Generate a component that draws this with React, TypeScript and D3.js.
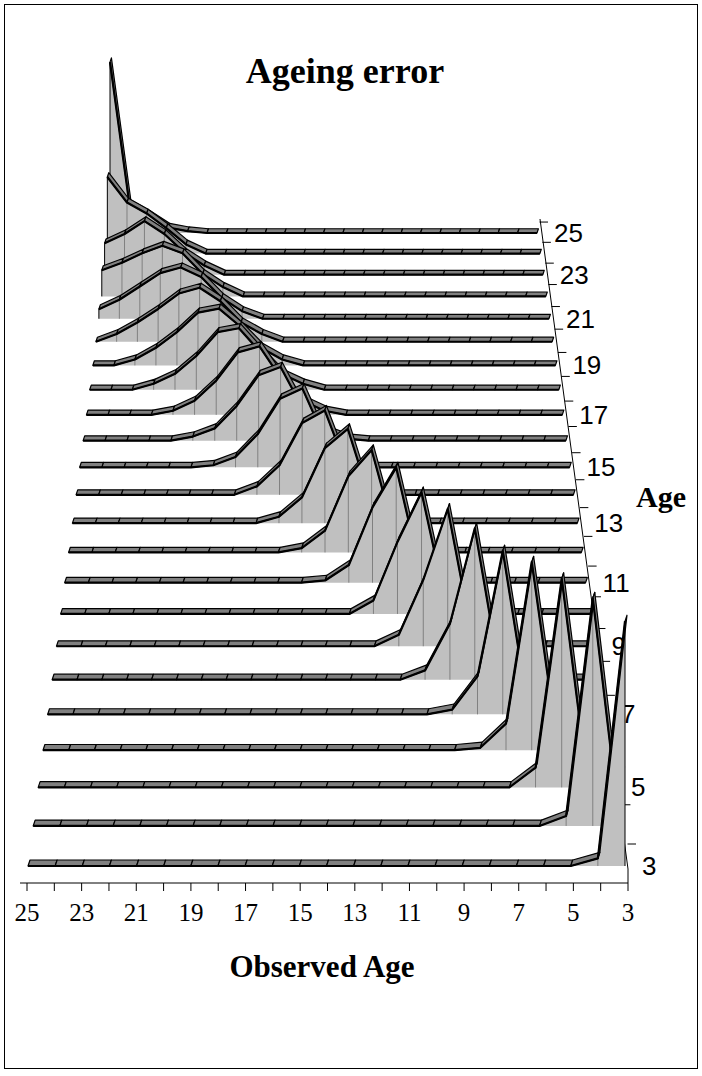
import * as d3 from 'd3'

// observed ages on the horizontal axis (left = 25, right = 3)
const observedAges = d3.range(25, 2, -1)
// true ages, one ribbon each (front = 3, back = 25)
const trueAges = d3.range(3, 26)
const bottomTicks = [25, 23, 21, 19, 17, 15, 13, 11, 9, 7, 5, 3]
const depthTicks = [3, 5, 7, 9, 11, 13, 15, 17, 19, 21, 23, 25]

// each row: [true age, first observed age, values from that observed age upward]
const rows: [number, number, number[]][] = [
  [3, 3, [0.96, 0.03]],
  [4, 3, [0.01, 0.91, 0.04]],
  [5, 4, [0.01, 0.85, 0.08]],
  [6, 5, [0.02, 0.78, 0.11, 0.01]],
  [7, 6, [0.02, 0.69, 0.16, 0.02]],
  [8, 7, [0.03, 0.65, 0.24, 0.04]],
  [9, 8, [0.04, 0.6, 0.29, 0.05]],
  [10, 9, [0.05, 0.54, 0.32, 0.06]],
  [11, 10, [0.06, 0.52, 0.34, 0.08, 0.01]],
  [12, 10, [0.02, 0.08, 0.47, 0.35, 0.1, 0.02]],
  [13, 11, [0.02, 0.1, 0.44, 0.35, 0.12, 0.03]],
  [14, 12, [0.03, 0.12, 0.4, 0.34, 0.14, 0.04]],
  [15, 13, [0.04, 0.14, 0.38, 0.33, 0.16, 0.05, 0.01]],
  [16, 13, [0.01, 0.05, 0.16, 0.36, 0.32, 0.17, 0.06, 0.02]],
  [17, 14, [0.02, 0.07, 0.18, 0.34, 0.31, 0.17, 0.07, 0.02]],
  [18, 15, [0.03, 0.08, 0.19, 0.31, 0.29, 0.17, 0.08, 0.03]],
  [19, 16, [0.03, 0.09, 0.2, 0.29, 0.27, 0.17, 0.09, 0.03]],
  [20, 17, [0.04, 0.1, 0.21, 0.28, 0.25, 0.17, 0.1, 0.04]],
  [21, 18, [0.04, 0.11, 0.22, 0.27, 0.24, 0.17, 0.1, 0.05]],
  [22, 19, [0.05, 0.12, 0.23, 0.27, 0.23, 0.18, 0.14]],
  [23, 20, [0.05, 0.12, 0.22, 0.29, 0.22, 0.17]],
  [24, 21, [0.05, 0.14, 0.22, 0.28, 0.42]],
  [25, 21, [0.01, 0.03, 0.1, 0.16, 0.95]],
]

const W = 702
const H = 1076
const serif = 'Liberation Serif, Times New Roman, serif'
const sans = 'Liberation Sans, Arial, sans-serif'
const maxDepth = trueAges.length - 1
const persp = (d: number) => 1 / (1 + 0.019 * d)
const frac = d3.scaleLinear().domain([1, persp(maxDepth)]).range([0, 1])
const baseY = d3.scaleLinear().domain([0, 1]).range([866, 233])
const leftX = d3.scaleLinear().domain([0, 1]).range([28, 110])
const rightX = d3.scaleLinear().domain([0, 1]).range([625, 537])
const valueH = d3.scaleLinear().domain([0, 1]).range([0, 255])

function rowGeom(age: number) {
  const d = age - 3
  const s = persp(d)
  const f = frac(s)
  const y0 = baseY(f)
  const x = d3.scaleLinear().domain([25, 3]).range([leftX(f), rightX(f)])
  return { s, y0, x }
}

function Ribbon({ age, from, vals }: { age: number; from: number; vals: number[] }) {
  const { s, y0, x } = rowGeom(age)
  const pts = observedAges.map((o) => {
    const i = o - from
    const v = i >= 0 && i < vals.length ? vals[i] : 0
    return { o, v, px: x(o), py: y0 - valueH(v) * s }
  })
  const off: [number, number] = [2 * s, -6 * s]
  const line = d3.line<{ px: number; py: number }>().x((p) => p.px).y((p) => p.py)
  const area = d3
    .area<{ px: number; py: number }>()
    .x((p) => p.px)
    .y0(y0)
    .y1((p) => p.py)
  const last = pts[pts.length - 1]
  return (
    <g>
      <path d={area(pts) || ''} fill="#c0c0c0" stroke="none" />
      {pts.map((p, i) =>
        p.v > 0.015 && i > 0 && i < pts.length - 1 ? (
          <line key={i} x1={p.px} x2={p.px} y1={y0} y2={p.py} stroke="#808080" strokeWidth={1} />
        ) : null
      )}
      <line x1={pts[0].px} x2={pts[0].px} y1={y0} y2={pts[0].py} stroke="#000" strokeWidth={1} />
      <line x1={last.px} x2={last.px} y1={y0} y2={last.py} stroke="#000" strokeWidth={1} />
      {pts.slice(0, -1).map((p, i) => {
        const q = pts[i + 1]
        const poly = [
          [p.px, p.py],
          [q.px, q.py],
          [q.px + off[0], q.py + off[1]],
          [p.px + off[0], p.py + off[1]],
        ]
        return (
          <polygon
            key={'b' + i}
            points={poly.map((c) => c.join(',')).join(' ')}
            fill="#808080"
            stroke="#000"
            strokeWidth={1.2}
            strokeLinejoin="round"
          />
        )
      })}
      <path d={line(pts) || ''} fill="none" stroke="#000" strokeWidth={2.2} strokeLinejoin="round" />
    </g>
  )
}

export default function App() {
  const axisY = 883
  const xAxis = d3.scaleLinear().domain([25, 3]).range([27, 628])
  const front = rowGeom(3)
  const back = rowGeom(25)
  const rightAxisX = (age: number) => rowGeom(age).x(3) + 3
  return (
    <svg
      width={W}
      height={H}
      viewBox={`0 0 ${W} ${H}`}
      style={{ display: 'block', position: 'absolute', left: 0, top: 0 }}
    >
      <rect x={4.5} y={4.5} width={693} height={1064} fill="#fff" stroke="#000" strokeWidth={1} />
      <text x={345} y={83} textAnchor="middle" fontFamily={serif} fontWeight="bold" fontSize={36}>
        Ageing error
      </text>
      {/* floor / bottom axis */}
      <line x1={20} x2={628} y1={axisY} y2={axisY} stroke="#000" />
      {observedAges.map((o) => (
        <line key={o} x1={xAxis(o)} x2={xAxis(o)} y1={axisY} y2={axisY + 8} stroke="#000" />
      ))}
      {bottomTicks.map((o) => (
        <text key={o} x={xAxis(o)} y={axisY + 38} textAnchor="middle" fontFamily={serif} fontSize={25}>
          {o}
        </text>
      ))}
      <text x={322} y={977} textAnchor="middle" fontFamily={serif} fontWeight="bold" fontSize={31}>
        Observed Age
      </text>
      {/* depth axis */}
      <line x1={628} y1={axisY} x2={front.x(3) + 3} y2={front.y0 + 3} stroke="#000" />
      <line x1={front.x(3) + 3} y1={front.y0 + 3} x2={back.x(3) + 3} y2={back.y0 - 14} stroke="#000" />
      {trueAges.map((a) => {
        const g = rowGeom(a)
        const yy = g.y0 - 22 * g.s * g.s
        return <line key={a} x1={rightAxisX(a) - 0.5} x2={rightAxisX(a) + 8} y1={yy} y2={yy} stroke="#000" />
      })}
      {depthTicks.map((a) => {
        const g = rowGeom(a)
        return (
          <text key={a} x={rightAxisX(a) + 14} y={g.y0 + 9} fontFamily={sans} fontSize={26}>
            {a}
          </text>
        )
      })}
      <text x={636} y={507} fontFamily={serif} fontWeight="bold" fontSize={30}>
        Age
      </text>
      {/* ribbons, back to front */}
      {[...rows].reverse().map(([age, from, vals]) => (
        <Ribbon key={age} age={age} from={from} vals={vals} />
      ))}
    </svg>
  )
}
